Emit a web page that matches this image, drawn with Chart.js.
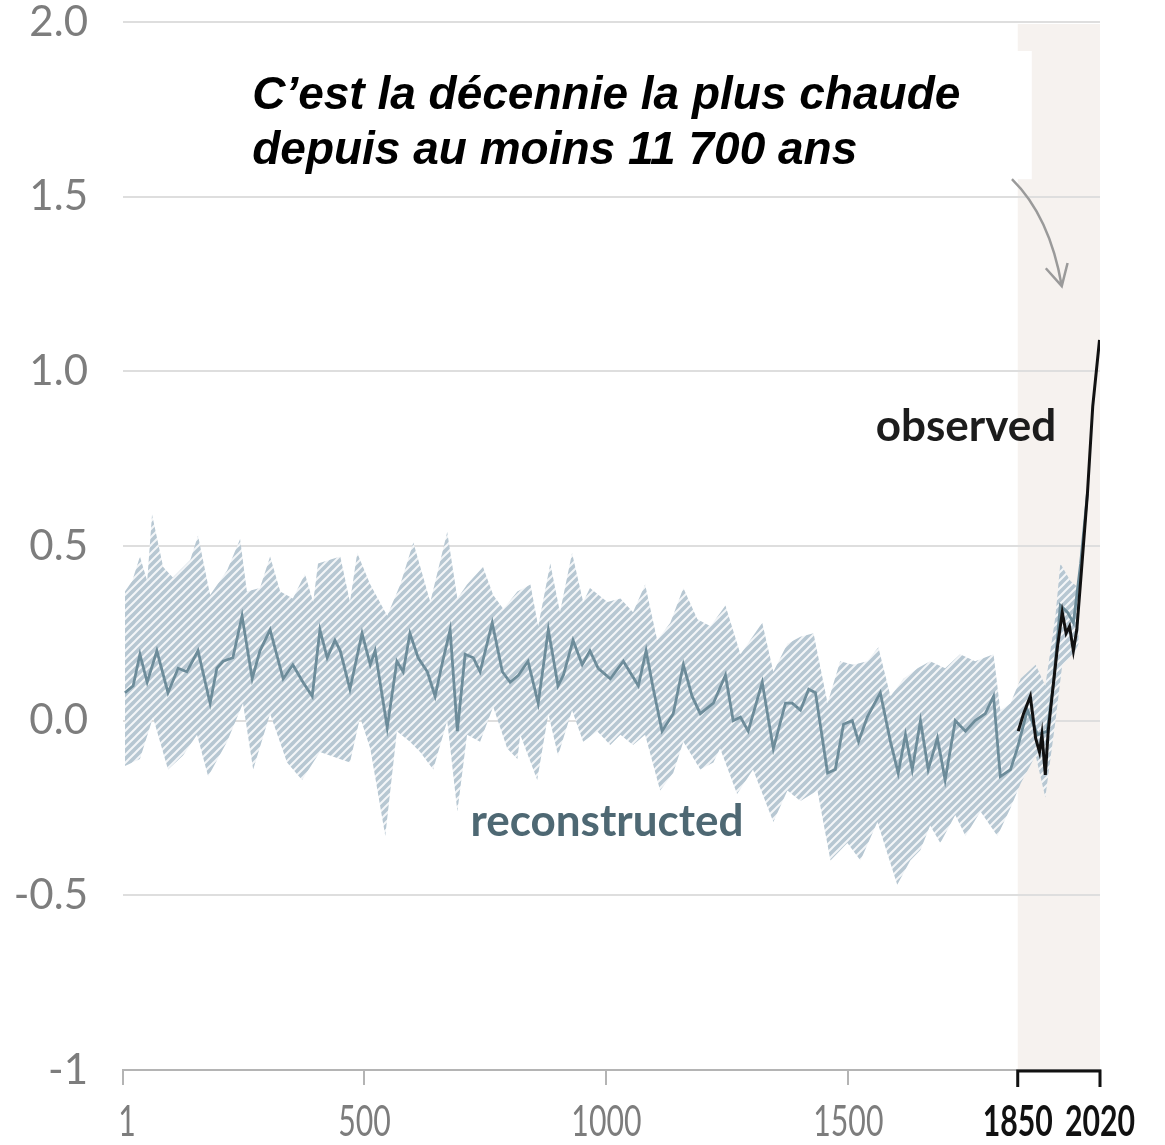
<!DOCTYPE html>
<html>
<head>
<meta charset="utf-8">
<script src="https://cdn.jsdelivr.net/npm/chart.js@4.4.0/dist/chart.umd.min.js"></script>
<style>
  html, body { margin: 0; padding: 0; background: #fff; }
  canvas { display: block; }
</style>
</head>
<body>
<canvas id="chart" width="1165" height="1145"></canvas>
<script>
// ---- données ----
const reconYears = [5, 22, 36, 51, 71, 94, 115, 133, 156, 181, 195, 208, 228, 247, 268, 284, 305, 332, 352, 373, 392,
  408, 423, 439, 450, 470, 495, 512, 522, 547, 567, 580, 594, 611, 630, 646, 660, 677, 692, 708, 725, 739, 764, 785, 801, 818,
  838, 859, 880, 900, 911, 931, 950, 966, 983, 1008, 1035, 1066, 1082, 1097, 1115, 1138, 1159, 1177, 1194, 1221,
  1246, 1262, 1277, 1293, 1322, 1345, 1370, 1384, 1401, 1418, 1432, 1457, 1473, 1490, 1508, 1521, 1539,
  1566, 1587, 1603, 1618, 1632, 1649, 1665, 1684, 1700, 1721, 1742, 1762, 1783, 1800, 1814, 1835, 1849,
  1870, 1891, 1911, 1924, 1938, 1953, 1965, 1980, 1994];
const reconVals = [0.08, 0.10, 0.19, 0.11, 0.20, 0.08, 0.15, 0.14, 0.20, 0.05, 0.15, 0.17, 0.18, 0.30, 0.12, 0.20, 0.26, 0.12, 0.16, 0.11, 0.07,
  0.26, 0.18, 0.23, 0.20, 0.09, 0.25, 0.16, 0.20, -0.02, 0.17, 0.14, 0.25, 0.18, 0.14, 0.07, 0.16, 0.26, -0.03, 0.19, 0.18, 0.14, 0.28, 0.14, 0.11, 0.13,
  0.17, 0.05, 0.26, 0.10, 0.13, 0.23, 0.16, 0.20, 0.15, 0.12, 0.17, 0.10, 0.20, 0.09, -0.03, 0.02, 0.16, 0.07, 0.02, 0.05,
  0.13, 0.00, 0.01, -0.03, 0.11, -0.08, 0.05, 0.05, 0.03, 0.09, 0.08, -0.15, -0.14, -0.01, 0.00, -0.06, 0.01,
  0.08, -0.06, -0.15, -0.04, -0.14, 0.00, -0.14, -0.05, -0.17, 0.00, -0.03, 0.00, 0.02, 0.07, -0.16, -0.14, -0.08,
  0.03, -0.04, -0.03, 0.11, 0.33, 0.31, 0.28, 0.45, 0.65];

const upperYears = [5, 20, 36, 51, 61, 84, 104, 140, 156, 181, 216, 243, 257, 284, 305, 326, 352, 377, 394, 404,
  450, 470, 485, 512, 547, 574, 601, 636, 671, 692, 712, 745, 766, 787, 816,
  843, 859, 884, 904, 929, 952, 966, 1002, 1029, 1055, 1080, 1105, 1132, 1159, 1188, 1215,
  1246, 1277, 1322, 1345, 1374, 1401, 1428, 1457, 1483, 1510, 1539, 1562, 1587, 1614, 1643,
  1669, 1700, 1731, 1762, 1800, 1814, 1835, 1856, 1887, 1907, 1928, 1938, 1959, 1976];
const upperVals = [0.37, 0.40, 0.47, 0.40, 0.59, 0.44, 0.41, 0.46, 0.53, 0.36, 0.43, 0.52, 0.37, 0.38, 0.47, 0.37, 0.35, 0.42, 0.34, 0.45,
  0.47, 0.34, 0.48, 0.39, 0.30, 0.39, 0.51, 0.34, 0.54, 0.35, 0.39, 0.44, 0.36, 0.32, 0.37,
  0.39, 0.27, 0.45, 0.31, 0.48, 0.34, 0.38, 0.34, 0.35, 0.31, 0.39, 0.23, 0.28, 0.38, 0.29, 0.27,
  0.33, 0.19, 0.28, 0.14, 0.22, 0.24, 0.25, 0.05, 0.17, 0.16, 0.17, 0.21, 0.07, 0.12, 0.15,
  0.17, 0.15, 0.19, 0.17, 0.19, 0.03, 0.05, 0.12, 0.16, 0.10, 0.30, 0.45, 0.40, 0.38];

const lowerYears = [5, 36, 63, 94, 125, 154, 177, 216, 249, 270, 305, 340, 371, 394,
  408, 470, 491, 512, 543, 567, 594, 615, 642, 671, 692, 712, 739, 766, 795, 816,
  822, 857, 880, 900, 929, 952, 981, 1008, 1029, 1055, 1080, 1111, 1138, 1159, 1194, 1221,
  1235, 1270, 1303, 1345, 1374, 1401, 1436, 1463, 1498, 1525, 1560, 1601, 1628, 1649,
  1669, 1690, 1721, 1742, 1773, 1808, 1835, 1856, 1887, 1907, 1928, 1942, 1965, 1976];
const lowerVals = [-0.13, -0.11, 0.01, -0.14, -0.10, -0.04, -0.16, -0.06, 0.05, -0.14, 0.02, -0.12, -0.17, -0.12,
  -0.09, -0.12, 0.01, -0.08, -0.33, -0.03, -0.06, -0.09, -0.14, 0.00, -0.26, -0.04, -0.06, 0.04, -0.08, -0.11,
  -0.04, -0.17, 0.02, -0.10, 0.03, -0.06, -0.03, -0.07, -0.04, -0.07, -0.04, -0.20, -0.15, -0.06, -0.14, -0.12,
  -0.08, -0.21, -0.14, -0.29, -0.20, -0.23, -0.20, -0.40, -0.35, -0.40, -0.29, -0.47, -0.40, -0.37,
  -0.30, -0.35, -0.27, -0.33, -0.26, -0.33, -0.25, -0.18, -0.10, -0.22, 0.00, 0.16, 0.19, 0.22];

const obsYears = [1851, 1862, 1876, 1887, 1895, 1900, 1907, 1913, 1932, 1942, 1950, 1957, 1965, 1972, 1980, 1994, 2005, 2019];
const obsVals = [-0.03, 0.02, 0.07, -0.05, -0.09, -0.04, -0.155, -0.03, 0.21, 0.31, 0.25, 0.27, 0.20, 0.26, 0.40, 0.65, 0.90, 1.09];

const xTicks = [1, 500, 1000, 1500, 1850, 2020];
const yTicks = [-1, -0.5, 0, 0.5, 1, 1.5, 2];
const boldTicks = [1850, 2020];

const toPoints = (xs, ys) => xs.map((x, i) => ({ x: x, y: ys[i] }));
const isBold = ctx => !!(ctx && ctx.tick && boldTicks.includes(ctx.tick.value));

// motif hachuré de la bande d'incertitude
function hatchPattern() {
    const s = 8;
    const c = document.createElement('canvas');
    c.width = s; c.height = s;
    const g = c.getContext('2d');
    g.fillStyle = '#b7c7d2';
    g.fillRect(0, 0, s, s);
    g.strokeStyle = '#f4f6f8';
    g.lineWidth = 2;
    g.beginPath();
    g.moveTo(0, s); g.lineTo(s, 0);
    g.moveTo(-2, 2); g.lineTo(2, -2);
    g.moveTo(s - 2, s + 2); g.lineTo(s + 2, s - 2);
    g.stroke();
    return g.createPattern(c, 'repeat');
}

// fond beige 1850-2020, annotations, crochet et libellés de l'axe x
const decorPlugin = {
    id: 'decor',
    beforeDraw(chart) {
        const { ctx, chartArea, scales } = chart;
        const x0 = scales.x.getPixelForValue(1850);
        ctx.save();
        ctx.fillStyle = '#f6f2ef';
        ctx.fillRect(x0, chartArea.top + 2, chartArea.right - x0, chartArea.bottom - chartArea.top - 2);
        ctx.restore();
    },
    afterDraw(chart) {
        const { ctx, chartArea, scales } = chart;
        const px = v => scales.x.getPixelForValue(v);
        const py = v => scales.y.getPixelForValue(v);
        ctx.save();

        // crochet 1850-2020
        const b = chartArea.bottom;
        ctx.strokeStyle = '#111';
        ctx.lineWidth = 3;
        ctx.beginPath();
        ctx.moveTo(px(1850), b + 17);
        ctx.lineTo(px(1850), b + 1);
        ctx.lineTo(px(2020), b + 1);
        ctx.lineTo(px(2020), b + 17);
        ctx.stroke();

        // libellés de l'axe x (police étroite)
        ctx.textAlign = 'center';
        ctx.textBaseline = 'middle';
        xTicks.forEach(v => {
            const bold = boldTicks.includes(v);
            ctx.save();
            ctx.translate(px(v) + (v === 1 ? 4 : 0), b + 52);
            ctx.scale(0.72, 1);
            ctx.font = (bold ? 'bold ' : '') + '42px Lato, sans-serif';
            ctx.fillStyle = bold ? '#111' : '#7d7d7d';
            ctx.fillText(String(v), 0, 0);
            ctx.restore();
        });

        // encadré blanc + texte
        ctx.fillStyle = '#fff';
        ctx.fillRect(px(243), py(1.917), px(1879) - px(243), py(1.55) - py(1.917));
        ctx.fillStyle = '#000';
        ctx.font = 'italic bold 46px "Liberation Sans", Arial, sans-serif';
        ctx.textAlign = 'left';
        ctx.textBaseline = 'alphabetic';
        ctx.fillText('C’est la décennie la plus chaude', px(268), py(1.751));
        ctx.fillText('depuis au moins 11 700 ans', px(268), py(1.593));

        // flèche
        ctx.strokeStyle = '#9a9a9a';
        ctx.lineWidth = 2.5;
        ctx.beginPath();
        ctx.moveTo(px(1838), py(1.55));
        ctx.quadraticCurveTo(px(1916), py(1.444), px(1941), py(1.244));
        ctx.moveTo(px(1908), py(1.295));
        ctx.lineTo(px(1941), py(1.244));
        ctx.lineTo(px(1953), py(1.31));
        ctx.stroke();

        // libellés des séries
        ctx.textAlign = 'center';
        ctx.textBaseline = 'middle';
        ctx.font = 'bold 44px Lato, sans-serif';
        ctx.fillStyle = '#1c1c1c';
        ctx.fillText('observed', px(1743), py(0.842));
        ctx.fillStyle = '#4e6873';
        ctx.fillText('reconstructed', px(1001), py(-0.29));
        ctx.restore();
    }
};

new Chart(document.getElementById('chart'), {
    type: 'line',
    data: {
        datasets: [{
            label: 'upper',
            data: toPoints(upperYears, upperVals),
            borderWidth: 0,
            borderColor: 'rgba(0,0,0,0)',
            backgroundColor: hatchPattern(),
            fill: '+1',
            order: 3
        }, {
            label: 'lower',
            data: toPoints(lowerYears, lowerVals),
            borderWidth: 0,
            borderColor: 'rgba(0,0,0,0)',
            fill: false,
            order: 3
        }, {
            label: 'reconstructed',
            data: toPoints(reconYears, reconVals),
            borderColor: '#6d8c9a',
            borderWidth: 2.8,
            fill: false,
            order: 1
        }, {
            label: 'observed',
            data: toPoints(obsYears, obsVals),
            borderColor: '#111',
            borderWidth: 3,
            fill: false,
            order: 0
        }]
    },
    options: {
        responsive: false,
        animation: false,
        layout: { padding: { top: 22, right: 65, bottom: 0, left: 0 } },
        elements: { point: { radius: 0 }, line: { tension: 0 } },
        plugins: {
            legend: { display: false },
            tooltip: { enabled: false }
        },
        scales: {
            x: {
                type: 'linear',
                min: 1,
                max: 2020,
                afterBuildTicks: s => { s.ticks = xTicks.map(v => ({ value: v })); },
                afterFit: s => { s.height = 75; s.paddingLeft = 0; s.paddingRight = 0; },
                border: { color: '#b4b4b4', width: 2 },
                grid: {
                    drawOnChartArea: false,
                    drawTicks: true,
                    tickLength: 15,
                    lineWidth: 2,
                    color: ctx => isBold(ctx) ? 'rgba(0,0,0,0)' : '#b4b4b4'
                },
                ticks: { display: false, autoSkip: false }
            },
            y: {
                min: -1,
                max: 2,
                afterBuildTicks: s => { s.ticks = yTicks.map(v => ({ value: v })); },
                afterFit: s => { s.width = 123; s.paddingTop = 0; s.paddingBottom = 0; },
                border: { display: false },
                grid: { color: '#dedede', lineWidth: 2, drawTicks: false },
                ticks: {
                    padding: 35,
                    color: '#7d7d7d',
                    font: { family: 'Lato, sans-serif', size: 42 },
                    callback: v => v === -1 ? '-1' : v.toFixed(1)
                }
            }
        }
    },
    plugins: [decorPlugin]
});
</script>
</body>
</html>
